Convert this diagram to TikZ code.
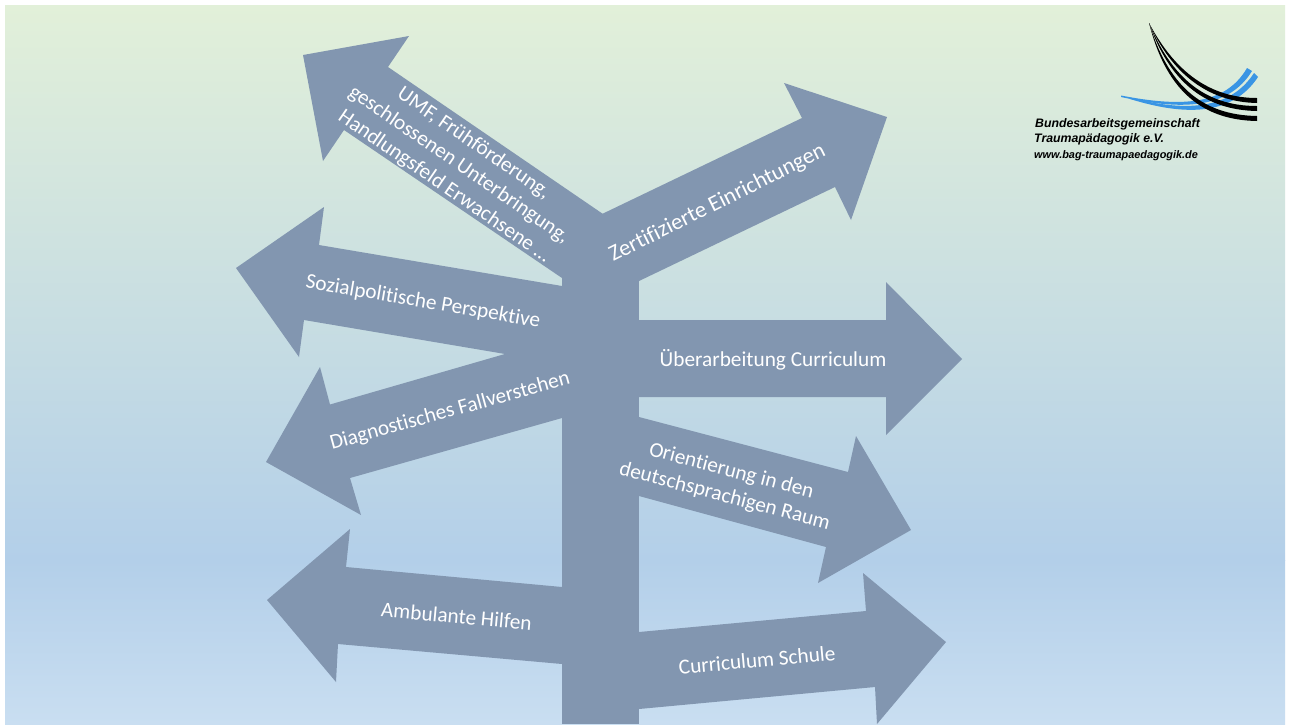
\documentclass[tikz,border=0pt]{standalone}
\usepackage{fontspec}
\setmainfont[Ligatures=CommonOff]{Carlito}
\newfontfamily\logofont{Liberation Sans}
\definecolor{arrowc}{HTML}{8296B0}
\definecolor{bgtop}{HTML}{E2F0D9}
\definecolor{bgmid}{HTML}{B3CFE9}
\definecolor{bgbot}{HTML}{C9DEF1}
\definecolor{logoblue}{HTML}{3A95E4}
\tikzset{
  arrowshape/.style={fill=arrowc,draw=none},
  label/.style={text=white,font=\fontsize{21.3}{26}\selectfont,align=center,inner sep=0pt},
  logotext/.style={text=black,anchor=west,inner sep=0pt,font=\logofont\bfseries\itshape\fontsize{12.3}{14}\selectfont},
  logoblack/.style={fill=black,draw=none},
  logobluefill/.style={fill=logoblue,draw=none}
}
\begin{document}
\begin{tikzpicture}[x=1pt,y=-1pt]
\useasboundingbox (0,0) rectangle (1289,724);
\fill[white] (0,0) rectangle (1289,724);
% background
\shade[top color=bgmid,bottom color=bgbot,draw=none] (5,560) rectangle (1285,724);
\shade[top color=bgtop,bottom color=bgmid,draw=none] (5,5) rectangle (1285,560.5);
% post
\fill[arrowshape] (562,215) -- (639,215) -- (639,724) -- (562,724) -- cycle;
% arrows
\fill[arrowshape] (303,55) -- (409,36) -- (388,67) -- (603,214) -- (639,281) -- (562,278) -- (344,130) -- (323,161) -- cycle;
\fill[arrowshape] (887,117) -- (851,220) -- (835,187) -- (639,281) -- (562,278) -- (602,214) -- (802,118) -- (784,83) -- cycle;
\fill[arrowshape] (236,268) -- (324,207) -- (319,245) -- (562,286) -- (562,363.6) -- (304,320) -- (299,357) -- cycle;
\fill[arrowshape] (962,359) -- (886,435) -- (886,397) -- (639,397) -- (639,320) -- (886,320) -- (886,282) -- cycle;
\fill[arrowshape] (266,462) -- (320,367) -- (330,404.5) -- (562,337.5) -- (562,418) -- (350,478) -- (361,515) -- cycle;
\fill[arrowshape] (911,530) -- (818,583) -- (826,547) -- (639,496) -- (639,417) -- (848,472) -- (856,436) -- cycle;
\fill[arrowshape] (267,600) -- (350,529) -- (346,567) -- (562,587) -- (562,664) -- (338,644) -- (336,682) -- cycle;
\fill[arrowshape] (946,642) -- (877,724) -- (875,687) -- (639,709) -- (639,632) -- (866,611) -- (863,573) -- cycle;
% labels
\node[label,rotate=-34.5] (umf) at (459,165) {UMF, Frühförderung,\\geschlossenen Unterbringung,\\Handlungsfeld Erwachsene …};
\node[label,rotate=26.5,font=\fontsize{22.6}{26}\selectfont] (zert) at (717.5,203.5) {Zertifizierte Einrichtungen};
\node[label,rotate=-9.6] (sozial) at (423,302) {Sozialpolitische Perspektive};
\node[label] (ueber) at (773,359.5) {Überarbeitung Curriculum};
\node[label,rotate=15.4] (diag) at (450,411.5) {Diagnostisches Fallverstehen};
\node[label,rotate=-14.7] (orient) at (728,484) {Orientierung in den\\deutschsprachigen Raum};
\node[label,rotate=-5.3] (amb) at (456.5,616) {Ambulante Hilfen};
\node[label,rotate=5.3] (curr) at (757,660) {Curriculum Schule};
% logo
\fill[logobluefill] (1121,95.5) .. controls (1180,107) and (1225,106) .. (1247,68) -- (1252,71) .. controls (1228,110) and (1180,110) .. (1121,97) -- cycle;
\fill[logobluefill] (1130,97.5) .. controls (1185,112) and (1230,110) .. (1254,73) -- (1258,77) .. controls (1232,116) and (1185,116) .. (1130,99) -- cycle;
\fill[logoblack] (1149,23) .. controls (1175,72) and (1210,98) .. (1257,98) -- (1257,103) .. controls (1208,102) and (1172,74) .. cycle;
\fill[logoblack] (1149,23) .. controls (1172,78) and (1205,106) .. (1257,106) -- (1257,111) .. controls (1203,110) and (1169,80) .. cycle;
\fill[logoblack] (1149,23) .. controls (1168,84) and (1200,115) .. (1257,116) -- (1257,121) .. controls (1198,120) and (1165,86) .. cycle;
\node[logotext] (l1) at (1035,124.5) {Bundesarbeitsgemeinschaft};
\node[logotext] (l2) at (1034,139.5) {Traumapädagogik e.V.};
\node[logotext,font=\logofont\bfseries\itshape\fontsize{10.9}{13}\selectfont] (l3) at (1034,155.5) {www.bag-traumapaedagogik.de};
\end{tikzpicture}
\end{document}
